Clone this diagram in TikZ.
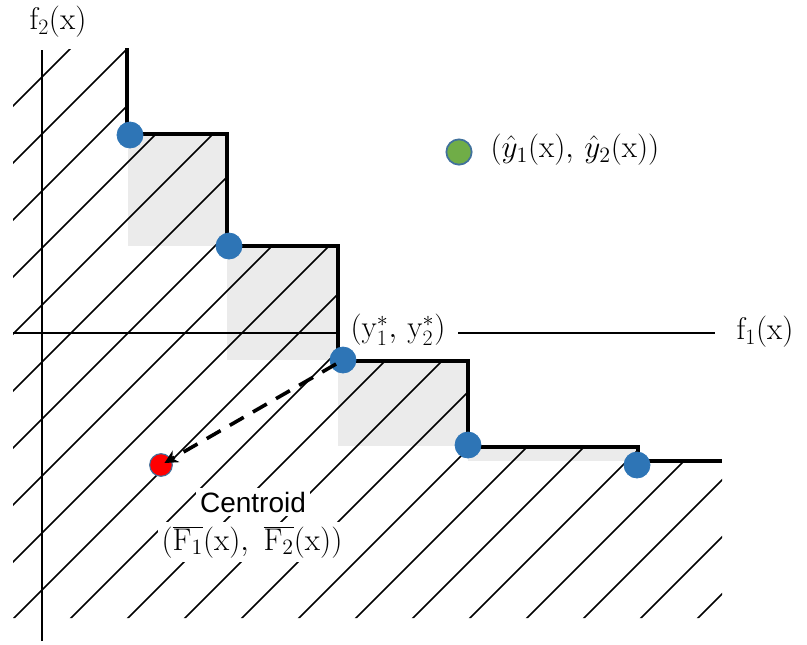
\RequirePackage{fix-cm}
\documentclass[tikz,border=0pt]{standalone}
\usepackage{fontspec}
\newfontfamily\arialfont{Liberation Sans}
\usetikzlibrary{arrows.meta}
\definecolor{ptblue}{HTML}{2E75B6}
\definecolor{ptedge}{HTML}{41719C}
\definecolor{ptgreen}{HTML}{70AD47}
\definecolor{ptred}{HTML}{FF0000}
\definecolor{impgrey}{HTML}{EBEBEB}
\tikzset{
  bigtext/.style={font=\fontsize{23.5}{28}\selectfont, inner sep=1pt},
  paretopt/.style={circle, fill=ptblue, draw=ptblue, line width=0.6pt, minimum size=19.5pt, inner sep=0pt},
  legendpt/.style={circle, fill=ptgreen, draw=ptedge, line width=1.3pt, minimum size=19pt, inner sep=0pt},
  centroidpt/.style={circle, fill=ptred, draw=ptedge, line width=0.8pt, minimum size=17pt, inner sep=0pt},
  axisline/.style={line width=1.3pt, black},
  stairline/.style={line width=2.7pt, black, line join=miter},
  hatchline/.style={line width=1.3pt, black},
  improve/.style={fill=impgrey, draw=none},
  movearrow/.style={line width=2.7pt, dash pattern=on 12pt off 8pt, -{Stealth[length=10pt,width=10pt]}, shorten >=3pt, shorten <=6pt}
}
\begin{document}
\begin{tikzpicture}[x=0.75pt,y=-0.75pt]
\useasboundingbox (0,0) rectangle (807,644);

% improvement boxes
\fill[improve] (128,134) rectangle (227,246);
\fill[improve] (227,246) rectangle (338,360);
\fill[improve] (338,361) rectangle (468,446);
\fill[improve] (468,447) rectangle (638,461);

% hatching of dominated region
\begin{scope}
\clip (13,49) -- (127,49) -- (127,134) -- (227,134) -- (227,246) -- (338,246) -- (338,361) -- (468,361) -- (468,447) -- (638,447) -- (638,461) -- (722,461) -- (722,618) -- (13,618) -- cycle;
\foreach \c in {0,...,21} \draw[hatchline] ({119+57*\c-700},700) -- ({119+57*\c},0);
\end{scope}

% axes
\coordinate (vtop) at (42,50);
\coordinate (vbot) at (42,641);
\coordinate (hl) at (13,333);
\coordinate (hm1) at (340,333);
\coordinate (hm2) at (458,333);
\coordinate (hr) at (715,333);
\draw[axisline] (vbot) -- (vtop);
\draw[axisline] (hl) -- (hm1);
\draw[axisline] (hm2) -- (hr);

% staircase
\draw[stairline] (127,48) -- (127,134) -- (227,134) -- (227,246) -- (338,246) -- (338,361) -- (468,361) -- (468,447) -- (638,447) -- (638,461) -- (722,461);

% labels
\node[bigtext] (f2) at (58,22) {$\mathrm{f_2(x)}$};
\node[bigtext] (f1) at (765,332) {$\mathrm{f_1(x)}$};
\node[bigtext, fill=white] (ystar) at (398,330) {$(\mathrm{y_1^*,\,y_2^*})$};
\node[bigtext, fill=white, font=\arialfont\fontsize{21}{25}\selectfont, inner sep=3pt] (ctext) at (253,502) {Centroid};
\node[bigtext, fill=white, inner sep=3pt] (cform) at (252,542) {$\bigl(\overline{\mathrm{F}_1}(\mathrm{x}),\ \overline{\mathrm{F}_2}(\mathrm{x})\bigr)$};

% points
\node[paretopt] (p1) at (130,135) {};
\node[paretopt] (p2) at (229,246) {};
\node[paretopt] (p3) at (343,360) {};
\node[paretopt] (p4) at (468,445) {};
\node[paretopt] (p5) at (637,465) {};
\node[centroidpt] (c) at (161,465) {};

\draw[movearrow] (p3.center) -- (c.center);

% legend
\node[legendpt] (g) at (459,152) {};
\node[bigtext, anchor=west] (gl) at (489,150) {$\bigl(\hat{y}_1(\mathrm{x}),\,\hat{y}_2(\mathrm{x})\bigr)$};
\end{tikzpicture}
\end{document}
